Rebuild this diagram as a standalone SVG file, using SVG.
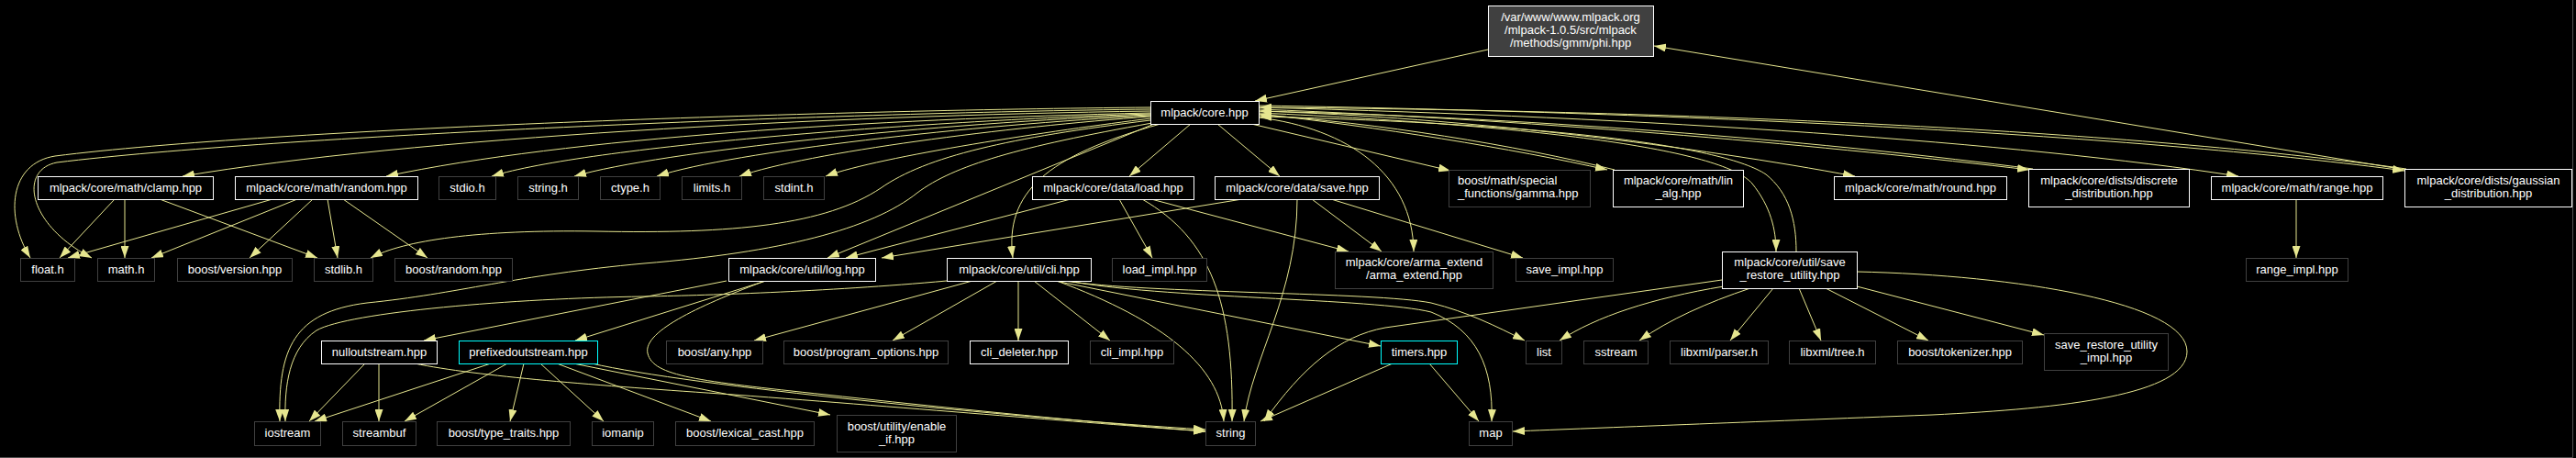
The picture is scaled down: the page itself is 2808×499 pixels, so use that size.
<svg xmlns="http://www.w3.org/2000/svg" width="2808" height="499" viewBox="0 0 2808 499">
<defs>
<marker id="a" markerWidth="13" markerHeight="9" refX="13" refY="4.5" orient="auto" markerUnits="userSpaceOnUse"><path d="M0,0 L13,4.5 L0,9 z" fill="#e6e68f"/></marker>
<style>
text{font-family:"Liberation Sans",Arial,Helvetica,sans-serif;font-size:13px;fill:#ffffff;text-anchor:middle}
.s{text-anchor:start}
rect{fill:#000000;stroke-width:1}
.d{stroke:#ffffff}
.u{stroke:#404040}
.t{stroke:#00ffff}
.r{fill:#404040;stroke:#ffffff}
#edges path{fill:none;stroke:#e6e68f;stroke-width:1;marker-end:url(#a)}
</style>
</defs>
<rect x="0" y="0" width="2808" height="499" style="fill:#000;stroke:none"/>
<path d="M0,498.5 H2804.5 V0" fill="none" stroke="#505050" stroke-width="1"/>
<g id="edges">
<path d="M1254,117 C900,120 300,140 60,170 C10,178 5,235 33,281"/>
<path d="M1254,119 C900,123 300,148 62,177 C20,185 30,245 100,281"/>
<path d="M1254,121 C900,126 450,150 199,192"/>
<path d="M1254,123 C950,130 620,150 421,192"/>
<path d="M1254,124 C1000,132 640,160 536,192"/>
<path d="M1254,125 C1020,134 720,165 626,192"/>
<path d="M1254,126 C1060,136 800,165 716,192"/>
<path d="M1254,127 C1100,138 880,166 806,192"/>
<path d="M1254,129 C1150,142 960,170 900,192"/>
<path d="M1254,131 C1100,150 1010,170 960,205 C900,245 800,255 650,252 C520,250 440,262 404,281"/>
<path d="M1256,134 C1110,160 1040,180 1000,210 C950,250 850,275 702,287 C560,300 500,320 400,330 C320,340 303,380 305,459"/>
<path d="M1258,135 L902,281"/>
<path d="M1265,135 C1140,170 1095,210 1104,281"/>
<path d="M1298,135 L1231,192"/>
<path d="M1327,135 L1395,192"/>
<path d="M1364,135 L1581,186"/>
<path d="M1372,128 C1470,140 1540,190 1541,274"/>
<path d="M1372,124 C1500,138 1650,162 1752,185"/>
<path d="M1760,185 C1652,158 1502,134 1373,125"/>
<path d="M1372,121 C1600,128 1850,160 2022,192"/>
<path d="M1372,119 C1700,132 2000,160 2212,185"/>
<path d="M2216,184 C2000,156 1700,129 1373,121"/>
<path d="M1372,117 C1800,128 2200,155 2440,192"/>
<path d="M1372,115 C1900,124 2350,150 2621,186"/>
<path d="M2623,184 C2350,146 1900,121 1373,117"/>
<path d="M1372,123 C1700,138 1880,165 1910,200 C1930,225 1936,250 1936,274"/>
<path d="M1958,274 C1958,240 1950,210 1925,190 C1880,160 1700,135 1373,127"/>
<path d="M1622,54 L1368,110"/>
<path d="M2622,185 L1803,50"/>
<path d="M125,217 L65,281"/>
<path d="M136,217 L136,281"/>
<path d="M174,217 L346,281"/>
<path d="M297,217 L74,281"/>
<path d="M324,217 L165,281"/>
<path d="M341,217 L272,281"/>
<path d="M357,217 L368,281"/>
<path d="M374,217 L466,281"/>
<path d="M1167,217 L922,281"/>
<path d="M1220,217 L1256,281"/>
<path d="M1255,217 L1470,274"/>
<path d="M1245,217 C1320,260 1345,330 1343,459"/>
<path d="M1354,217 L961,281"/>
<path d="M1430,217 L1506,274"/>
<path d="M1451,217 L1660,281"/>
<path d="M1414,217 C1414,320 1365,390 1356,459"/>
<path d="M2503,217 L2503,281"/>
<path d="M792,306 L462,371"/>
<path d="M835,306 L627,371"/>
<path d="M834,306 C770,330 700,360 706,385 C712,410 760,415 900,430 C1100,452 1250,465 1314,470"/>
<path d="M1032,306 C900,318 760,322 702,323 C560,325 380,340 345,360 C315,380 310,420 311,459"/>
<path d="M1060,306 L822,371"/>
<path d="M1087,306 L973,371"/>
<path d="M1110,306 L1110,371"/>
<path d="M1127,306 L1210,371"/>
<path d="M1152,306 C1270,350 1330,400 1334,459"/>
<path d="M1160,306 C1250,320 1500,318 1560,330 C1600,340 1630,355 1662,371"/>
<path d="M1165,306 C1260,325 1500,325 1560,340 C1610,360 1628,400 1626,459"/>
<path d="M1150,306 L1505,377"/>
<path d="M1558,396 L1612,459"/>
<path d="M1518,396 L1374,459"/>
<path d="M398,396 L337,459"/>
<path d="M413,396 L413,459"/>
<path d="M452,396 C520,410 650,420 800,430 C1000,445 1200,462 1314,470"/>
<path d="M535,396 L343,459"/>
<path d="M553,396 L441,459"/>
<path d="M571,396 L556,459"/>
<path d="M589,396 L658,459"/>
<path d="M607,396 L775,459"/>
<path d="M625,396 L905,452"/>
<path d="M645,396 C750,420 1100,455 1314,468"/>
<path d="M1879,312 C1800,325 1740,345 1700,371"/>
<path d="M1908,314 C1860,330 1820,348 1787,371"/>
<path d="M1933,314 L1886,371"/>
<path d="M1961,314 L1985,371"/>
<path d="M1990,314 L2102,371"/>
<path d="M2024,312 L2228,365"/>
<path d="M2024,296 C2200,300 2384,330 2384,383 C2384,430 2250,445 2106,452 C1900,460 1750,466 1649,470"/>
<path d="M1877,305 L1510,357 C1460,366 1420,400 1378,459"/>
</g>
<g id="n_phi"><rect class="r" x="1622.5" y="6.5" width="180" height="55"/><text x="1712" y="22.5">/var/www/www.mlpack.org</text><text x="1712" y="36.5">/mlpack-1.0.5/src/mlpack</text><text x="1712" y="50.5">/methods/gmm/phi.hpp</text></g>
<g id="n_core"><rect class="d" x="1254.5" y="110.5" width="118" height="25"/><text x="1313" y="126.5">mlpack/core.hpp</text></g>
<g id="n_clamp"><rect class="d" x="41.5" y="192.5" width="191" height="25"/><text x="137" y="208.5">mlpack/core/math/clamp.hpp</text></g>
<g id="n_random"><rect class="d" x="256.5" y="192.5" width="199" height="25"/><text x="356" y="208.5">mlpack/core/math/random.hpp</text></g>
<g id="n_stdio"><rect class="u" x="478.5" y="192.5" width="62" height="25"/><text x="509.5" y="208.5">stdio.h</text></g>
<g id="n_stringh"><rect class="u" x="564.5" y="192.5" width="66" height="25"/><text x="597.5" y="208.5">string.h</text></g>
<g id="n_ctype"><rect class="u" x="654.5" y="192.5" width="65" height="25"/><text x="687" y="208.5">ctype.h</text></g>
<g id="n_limits"><rect class="u" x="743.5" y="192.5" width="65" height="25"/><text x="776" y="208.5">limits.h</text></g>
<g id="n_stdint"><rect class="u" x="832.5" y="192.5" width="66" height="25"/><text x="865.5" y="208.5">stdint.h</text></g>
<g id="n_load"><rect class="d" x="1125.5" y="192.5" width="176" height="25"/><text x="1213.5" y="208.5">mlpack/core/data/load.hpp</text></g>
<g id="n_save"><rect class="d" x="1324.5" y="192.5" width="179" height="25"/><text x="1414" y="208.5">mlpack/core/data/save.hpp</text></g>
<g id="n_gamma"><rect class="u" x="1579.5" y="185.5" width="154" height="40"/><text class="s" x="1589" y="201">boost/math/special</text><text class="s" x="1589" y="215">_functions/gamma.hpp</text></g>
<g id="n_linalg"><rect class="d" x="1758.5" y="185.5" width="142" height="40"/><text x="1829.5" y="201">mlpack/core/math/lin</text><text x="1829.5" y="215">_alg.hpp</text></g>
<g id="n_round"><rect class="d" x="1999.5" y="192.5" width="188" height="25"/><text x="2093.5" y="208.5">mlpack/core/math/round.hpp</text></g>
<g id="n_discrete"><rect class="d" x="2211.5" y="184.5" width="175" height="41"/><text x="2299" y="201">mlpack/core/dists/discrete</text><text x="2299" y="215">_distribution.hpp</text></g>
<g id="n_range"><rect class="d" x="2410.5" y="192.5" width="187" height="25"/><text x="2504" y="208.5">mlpack/core/math/range.hpp</text></g>
<g id="n_gaussian"><rect class="d" x="2621.5" y="184.5" width="182" height="41"/><text x="2712.5" y="201">mlpack/core/dists/gaussian</text><text x="2712.5" y="215">_distribution.hpp</text></g>
<g id="n_float"><rect class="u" x="22.5" y="281.5" width="59" height="25"/><text x="52" y="297.5">float.h</text></g>
<g id="n_math"><rect class="u" x="106.5" y="281.5" width="62" height="25"/><text x="137.5" y="297.5">math.h</text></g>
<g id="n_version"><rect class="u" x="193.5" y="281.5" width="125" height="25"/><text x="256" y="297.5">boost/version.hpp</text></g>
<g id="n_stdlib"><rect class="u" x="342.5" y="281.5" width="64" height="25"/><text x="374.5" y="297.5">stdlib.h</text></g>
<g id="n_brandom"><rect class="u" x="430.5" y="281.5" width="128" height="25"/><text x="494.5" y="297.5">boost/random.hpp</text></g>
<g id="n_log"><rect class="d" x="794.5" y="281.5" width="160" height="25"/><text x="874.5" y="297.5">mlpack/core/util/log.hpp</text></g>
<g id="n_cli"><rect class="d" x="1032.5" y="281.5" width="157" height="25"/><text x="1111" y="297.5">mlpack/core/util/cli.hpp</text></g>
<g id="n_loadimpl"><rect class="u" x="1212.5" y="281.5" width="103" height="25"/><text x="1264" y="297.5">load_impl.hpp</text></g>
<g id="n_arma"><rect class="u" x="1455.5" y="274.5" width="172" height="40"/><text x="1541.5" y="290">mlpack/core/arma_extend</text><text x="1541.5" y="304">/arma_extend.hpp</text></g>
<g id="n_saveimpl"><rect class="u" x="1652.5" y="281.5" width="106" height="25"/><text x="1705.5" y="297.5">save_impl.hpp</text></g>
<g id="n_sru"><rect class="d" x="1877.5" y="274.5" width="147" height="40"/><text x="1951" y="290">mlpack/core/util/save</text><text x="1951" y="304">_restore_utility.hpp</text></g>
<g id="n_rangeimpl"><rect class="u" x="2448.5" y="281.5" width="111" height="25"/><text x="2504" y="297.5">range_impl.hpp</text></g>
<g id="n_nullout"><rect class="d" x="350.5" y="371.5" width="126" height="25"/><text x="413.5" y="387.5">nulloutstream.hpp</text></g>
<g id="n_prefixed"><rect class="t" x="500.5" y="371.5" width="151" height="25"/><text x="576" y="387.5">prefixedoutstream.hpp</text></g>
<g id="n_any"><rect class="u" x="726.5" y="371.5" width="105" height="25"/><text x="779" y="387.5">boost/any.hpp</text></g>
<g id="n_po"><rect class="u" x="854.5" y="371.5" width="179" height="25"/><text x="944" y="387.5">boost/program_options.hpp</text></g>
<g id="n_clideleter"><rect class="d" x="1057.5" y="371.5" width="107" height="25"/><text x="1111" y="387.5">cli_deleter.hpp</text></g>
<g id="n_cliimpl"><rect class="u" x="1188.5" y="371.5" width="91" height="25"/><text x="1234" y="387.5">cli_impl.hpp</text></g>
<g id="n_timers"><rect class="t" x="1505.5" y="371.5" width="83" height="25"/><text x="1547" y="387.5">timers.hpp</text></g>
<g id="n_list"><rect class="u" x="1663.5" y="371.5" width="39" height="25"/><text x="1683" y="387.5">list</text></g>
<g id="n_sstream"><rect class="u" x="1726.5" y="371.5" width="70" height="25"/><text x="1761.5" y="387.5">sstream</text></g>
<g id="n_parser"><rect class="u" x="1820.5" y="371.5" width="107" height="25"/><text x="1874" y="387.5">libxml/parser.h</text></g>
<g id="n_tree"><rect class="u" x="1950.5" y="371.5" width="94" height="25"/><text x="1997.5" y="387.5">libxml/tree.h</text></g>
<g id="n_tokenizer"><rect class="u" x="2068.5" y="371.5" width="136" height="25"/><text x="2136.5" y="387.5">boost/tokenizer.hpp</text></g>
<g id="n_sruimpl"><rect class="u" x="2228.5" y="363.5" width="135" height="40"/><text x="2296" y="379.5">save_restore_utility</text><text x="2296" y="393.5">_impl.hpp</text></g>
<g id="n_iostream"><rect class="u" x="277.5" y="459.5" width="72" height="26"/><text x="313.5" y="476">iostream</text></g>
<g id="n_streambuf"><rect class="u" x="373.5" y="459.5" width="80" height="26"/><text x="413.5" y="476">streambuf</text></g>
<g id="n_typetraits"><rect class="u" x="476.5" y="459.5" width="145" height="26"/><text x="549" y="476">boost/type_traits.hpp</text></g>
<g id="n_iomanip"><rect class="u" x="645.5" y="459.5" width="67" height="26"/><text x="679" y="476">iomanip</text></g>
<g id="n_lexical"><rect class="u" x="736.5" y="459.5" width="151" height="26"/><text x="812" y="476">boost/lexical_cast.hpp</text></g>
<g id="n_enableif"><rect class="u" x="912.5" y="452.5" width="130" height="40"/><text x="977.5" y="468.5">boost/utility/enable</text><text x="977.5" y="482.5">_if.hpp</text></g>
<g id="n_string"><rect class="u" x="1314.5" y="459.5" width="54" height="26"/><text x="1341.5" y="476">string</text></g>
<g id="n_map"><rect class="u" x="1601.5" y="459.5" width="47" height="26"/><text x="1625" y="476">map</text></g>
</svg>
